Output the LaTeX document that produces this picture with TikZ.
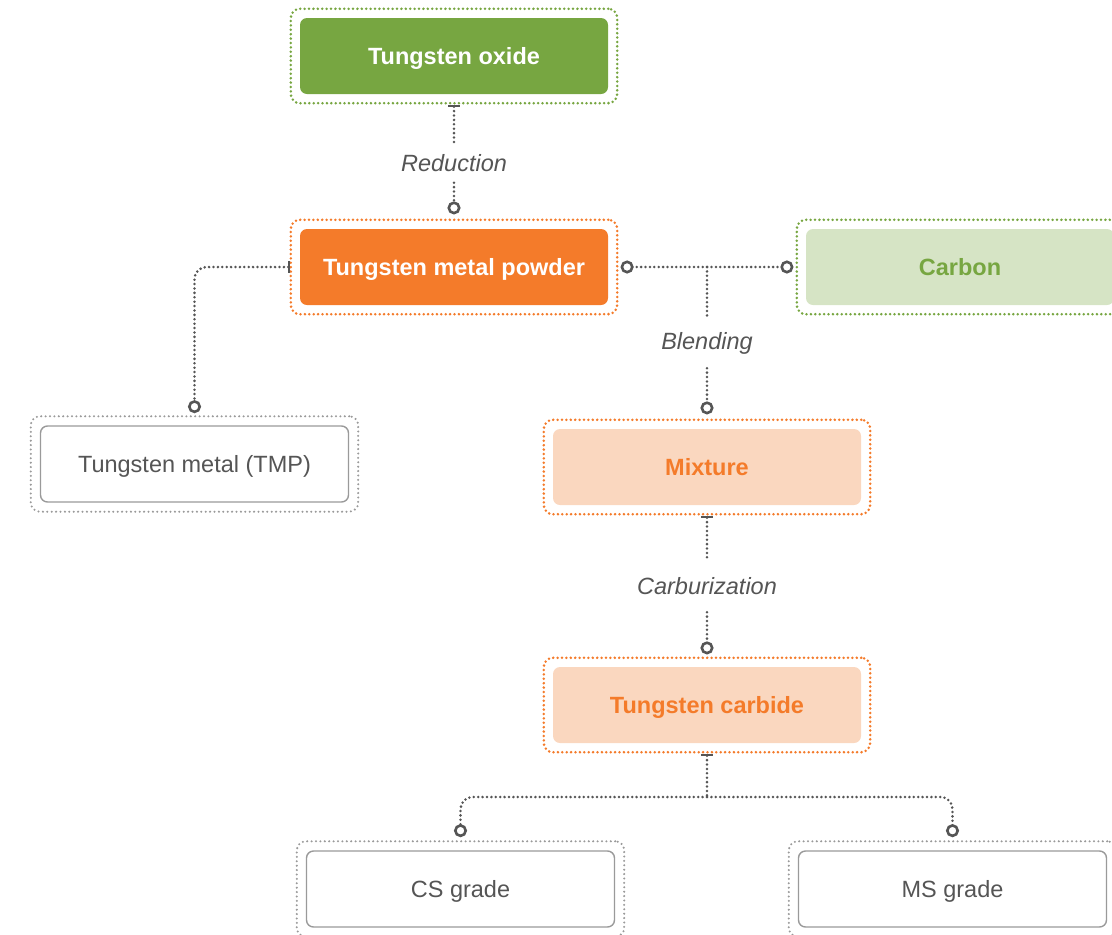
\documentclass[tikz,border=0pt]{standalone}
\usepackage{fontspec}
\setmainfont{Liberation Sans}
\usetikzlibrary{arrows.meta,calc,fit}
\definecolor{cgreen}{HTML}{77A641}
\definecolor{corange}{HTML}{F47B2A}
\definecolor{clorange}{HTML}{FAD7BF}
\definecolor{clgreen}{HTML}{D6E4C5}
\definecolor{cgray}{HTML}{555555}
\definecolor{cbord}{HTML}{9A9A9A}
\tikzset{
  ci/.tip={Circle[open,length=13pt,width=13pt,line width=2.6pt]},
  br/.tip={Bar[width=12pt,line width=2.8pt]},
}
\begin{document}
\begin{tikzpicture}[x=1pt,y=-1pt,
  box/.style={rounded corners=7pt, minimum width=308pt, minimum height=76pt, inner sep=0pt, text height=17pt, text depth=0pt},
  darkbox/.style={box, fill=#1, text=white, font=\fontsize{23.5}{28}\selectfont\bfseries},
  lightbox/.style 2 args={box, fill=#1, text=#2, font=\fontsize{23.5}{28}\selectfont\bfseries},
  whitebox/.style={box, draw=cbord, line width=1.4pt, fill=white, text=cgray, font=\fontsize{23.5}{28}\selectfont},
  frame/.style={draw=#1, line width=2.8pt, dash pattern=on 0pt off 4.4pt, line cap=round, rounded corners=9pt, inner sep=9pt},
  gframe/.style={draw=cbord, line width=2.3pt, dash pattern=on 0pt off 4.4pt, line cap=round, rounded corners=9pt, inner sep=9pt},
  conn/.style={draw=cgray, line width=2.8pt, dash pattern=on 0pt off 4.4pt, line cap=round},
  lab/.style={fill=white, text=cgray, inner sep=0pt, minimum height=#1, font=\fontsize{23.5}{28}\selectfont\itshape},
]
\useasboundingbox (0,0) rectangle (1112,935);
\clip (0,0) rectangle (1112,935);

% boxes
\node[darkbox=cgreen] (ox) at (454,56) {Tungsten oxide};
\node[frame=cgreen, fit=(ox)] (oxF) {};
\node[darkbox=corange] (pw) at (454,267) {Tungsten metal powder};
\node[frame=corange, fit=(pw)] (pwF) {};
\node[lightbox={clgreen}{cgreen}] (cb) at (960,267) {Carbon};
\node[frame=cgreen, fit=(cb)] (cbF) {};
\node[whitebox] (tmp) at (194.5,464) {Tungsten metal (TMP)};
\node[gframe, fit=(tmp)] (tmpF) {};
\node[lightbox={clorange}{corange}] (mx) at (707,467) {Mixture};
\node[frame=corange, fit=(mx)] (mxF) {};
\node[lightbox={clorange}{corange}] (wc) at (707,705) {Tungsten carbide};
\node[frame=corange, fit=(wc)] (wcF) {};
\node[whitebox] (cs) at (460.5,889) {CS grade};
\node[gframe, fit=(cs)] (csF) {};
\node[whitebox] (ms) at (952.5,889) {MS grade};
\node[gframe, fit=(ms)] (msF) {};

% labels
\node[lab=39pt] (red) at (454,163) {Reduction};
\node[lab=50pt] (blend) at (707,343) {Blending};
\node[lab=52pt] (carb) at (707,586) {Carburization};

% junctions
\coordinate (j1) at (mx.north |- pw.east);
\coordinate (j2) at (707,797);

% connectors
\draw[conn, br-] (oxF.south) -- (red);
\draw[conn, -ci] (red) -- ($(pwF.north)+(0,-4)$);
\draw[conn, br-ci, rounded corners=12pt] ($(pwF.west)+(1,0)$) -| ($(tmpF.north)+(0,-2)$);
\draw[conn, ci-ci] ($(pwF.east)+(2,0)$) -- ($(cbF.west)+(-2,0)$);
\draw[conn] (j1) -- (blend);
\draw[conn, -ci] (blend) -- ($(mxF.north)+(0,-4)$);
\draw[conn, br-] (mxF.south) -- (carb);
\draw[conn, -ci] (carb) -- ($(wcF.north)+(0,-2)$);
\draw[conn, br-] (wcF.south) -- (j2);
\draw[conn, -ci, rounded corners=12pt] (j2) -| ($(csF.north)+(0,-3)$);
\draw[conn, -ci, rounded corners=12pt] (j2) -| ($(msF.north)+(0,-3)$);
\end{tikzpicture}
\end{document}
